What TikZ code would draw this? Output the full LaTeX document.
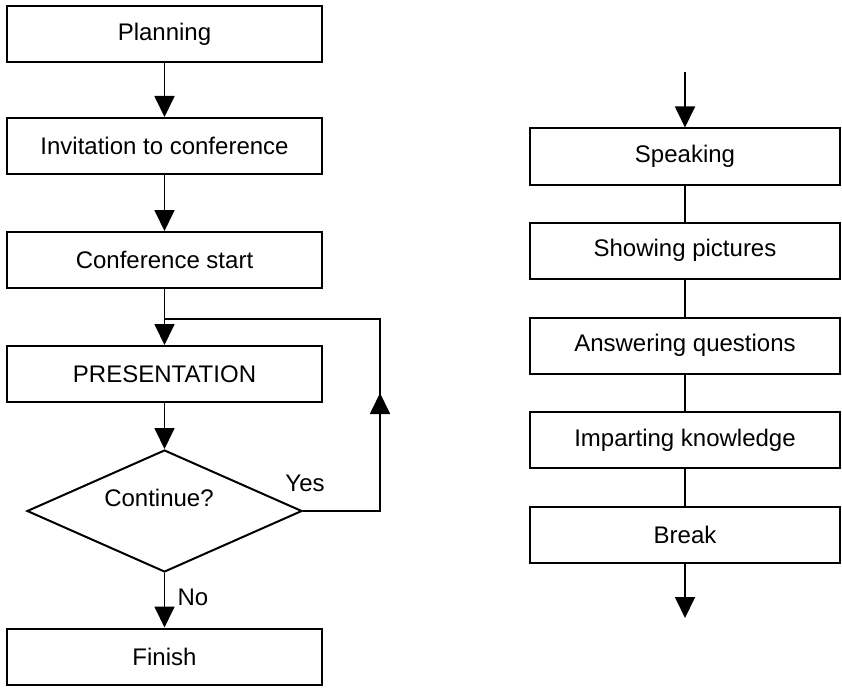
\documentclass[tikz,border=0pt]{standalone}
\usepackage{fontspec}
\setmainfont{Liberation Sans}
\usetikzlibrary{shapes.geometric,arrows.meta}
\begin{document}
\begin{tikzpicture}[x=1pt,y=-1pt,
  every node/.style={font=\fontsize{24}{28}\selectfont},
  leftbox/.style={draw,line width=2pt,minimum width=315pt,minimum height=56pt,inner sep=0pt},
  rightbox/.style={draw,line width=2pt,minimum width=310pt,minimum height=56pt,inner sep=0pt},
  decision/.style={draw,diamond,line width=2pt,minimum width=275pt,minimum height=122pt,inner sep=0pt},
  flow/.style={line width=1.8pt,-{Triangle[width=20pt,length=21pt]}},
  link/.style={line width=1.8pt}]
\useasboundingbox (0,0) rectangle (842,687);

% main sequence
\node[leftbox] (plan) at (164.5,34) {Planning};
\node[leftbox] (invite) at (164.5,146) {Invitation to conference};
\node[leftbox] (start) at (164.5,260) {Conference start};
\node[leftbox] (pres) at (164.5,374) {PRESENTATION};
\node[decision] (cont) at (164.5,511) {};
\node (conttext) at (159,498) {Continue?};
\node[leftbox] (finish) at (164.5,656.5) {Finish};

\draw[flow] (plan) -- (invite);
\draw[flow] (invite) -- (start);
\draw[flow] (start) -- (pres);
\draw[flow] (pres) -- (cont);
\draw[flow] (cont) -- (finish);

% loop back to the presentation
\coordinate (loopdown) at (380,511);
\coordinate (looptop) at (380,319);
\coordinate (join) at (164.5,319);
\coordinate (tipbase) at (380,420);
\coordinate (tip) at (380,393);
\draw[link] (cont.east) -- (loopdown) -- (looptop) -- (join);
\draw[flow] (tipbase) -- (tip);

\node (yes) at (305,483) {Yes};
\node (no) at (193,597) {No};

% presentation details
\coordinate (inflow) at (685,72);
\node[rightbox] (speak) at (685,156.5) {Speaking};
\node[rightbox] (show) at (685,250.5) {Showing pictures};
\node[rightbox] (answer) at (685,345.5) {Answering questions};
\node[rightbox] (impart) at (685,440) {Imparting knowledge};
\node[rightbox] (break) at (685,534.5) {Break};
\coordinate (outflow) at (685,618);

\draw[flow] (inflow) -- (speak);
\draw[link] (speak) -- (show);
\draw[link] (show) -- (answer);
\draw[link] (answer) -- (impart);
\draw[link] (impart) -- (break);
\draw[flow] (break) -- (outflow);
\end{tikzpicture}
\end{document}
